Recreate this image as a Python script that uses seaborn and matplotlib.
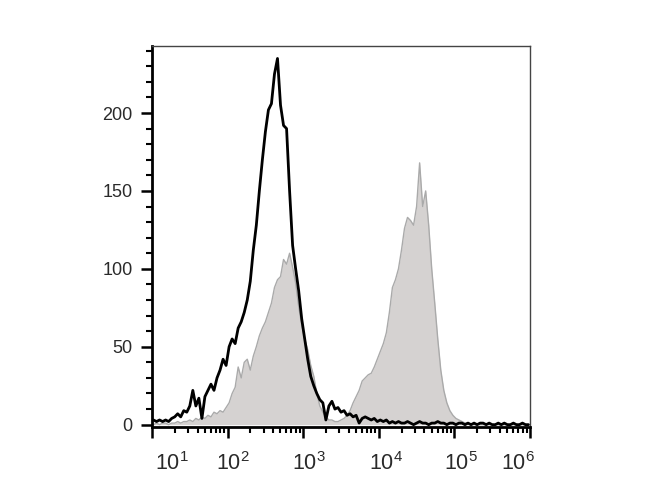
import numpy as np
import pandas as pd
import matplotlib
matplotlib.use("Agg")
import matplotlib.pyplot as plt
import matplotlib.ticker as mticker
from matplotlib.transforms import ScaledTranslation
import seaborn as sns

# ---- data (bins of 0.04 decades from 10^1 to 10^6) ----
log_start, log_step, n_bins = 1.0, 0.04, 125
bin_centers = 10 ** (log_start + log_step * (np.arange(n_bins) + 0.5))

control_counts = [
    3, 2, 3, 2, 3, 2, 4, 5, 7, 5,
    9, 8, 12, 22, 12, 17, 4, 18, 22, 26,
    22, 30, 35, 42, 38, 50, 55, 52, 62, 66,
    72, 80, 92, 112, 128, 150, 170, 188, 202, 206,
    225, 235, 205, 192, 190, 150, 115, 100, 86, 68,
    55, 42, 31, 25, 20, 16, 14, 3, 12, 15,
    10, 11, 8, 9, 6, 7, 5, 6, 1, 4,
    5, 4, 3, 4, 2, 3, 2, 3, 1, 2,
    1, 2, 1, 1, 2, 1, 0, 1, 2, 1,
    1, 0, 1, 1, 2, 1, 1, 0, 1, 1,
    0, 1, 1, 0, 1, 0, 1, 0, 1, 1,
    0, 1, 0, 0, 1, 0, 1, 0, 0, 1,
    0, 0, 1, 0, 0,
]

stained_counts = [
    0, 1, 0, 1, 1, 0, 1, 1, 2, 1,
    2, 2, 3, 2, 4, 3, 5, 4, 6, 5,
    8, 7, 9, 8, 11, 14, 20, 24, 37, 30,
    40, 42, 35, 44, 50, 57, 62, 66, 72, 78,
    88, 93, 95, 106, 103, 110, 101, 91, 76, 64,
    55, 48, 38, 31, 20, 12, 8, 5, 3, 3,
    2, 2, 3, 4, 6, 9, 14, 18, 22, 28,
    30, 32, 33, 37, 42, 47, 52, 59, 72, 88,
    93, 100, 112, 126, 133, 131, 128, 140, 168, 140,
    150, 128, 100, 78, 55, 35, 22, 14, 9, 6,
    4, 3, 2, 1, 1, 0, 0, 0, 0, 0,
    0, 0, 0, 0, 0, 0, 0, 0, 0, 0,
    0, 0, 0, 0, 0,
]

x_tick_values = [1e1, 1e2, 1e3, 1e4, 1e5, 1e6]
x_tick_labels = [r"$10^{1}$", r"$10^{2}$", r"$10^{3}$", r"$10^{4}$", r"$10^{5}$", r"$10^{6}$"]
y_tick_values = [0, 50, 100, 150, 200]

df = pd.DataFrame({"x": bin_centers, "control": control_counts, "stained": stained_counts})

# ---- figure ----
sns.set_style("ticks")
plt.rcParams["font.family"] = ["Liberation Sans", "DejaVu Sans"]
plt.rcParams["mathtext.fontset"] = "custom"
plt.rcParams["mathtext.rm"] = "Liberation Sans"
plt.rcParams["mathtext.it"] = "Liberation Sans"

fig = plt.figure(figsize=(6.7, 5.0), dpi=100)
ax = fig.add_axes([152 / 670, 1 - 427 / 500, (530 - 152) / 670, (427 - 46) / 500])

ax.fill_between(df["x"], df["stained"], 0, color="#d5d2d1", lw=0, zorder=1)
sns.lineplot(data=df, x="x", y="stained", color="#aaaaaa", lw=1.0, ax=ax, zorder=2)
sns.lineplot(data=df, x="x", y="control", color="black", lw=2.0, ax=ax, zorder=3)

ax.set_xscale("log")
ax.set_xlim(10, 1e6)
ax.set_ylim(-1.5, 243)
ax.set_xlabel("")
ax.set_ylabel("")

ax.set_xticks(x_tick_values)
ax.set_xticklabels(x_tick_labels)
ax.xaxis.set_minor_locator(mticker.LogLocator(base=10, subs=np.arange(2, 10), numticks=20))
ax.xaxis.set_minor_formatter(mticker.NullFormatter())
ax.set_yticks(y_tick_values)
ax.yaxis.set_minor_locator(mticker.MultipleLocator(10))

ax.tick_params(axis="both", which="major", direction="out", length=8, width=1.8,
               color="black", labelsize=13, labelcolor="#2a2a2a")
ax.tick_params(axis="both", which="minor", direction="out", length=4, width=1.5, color="black")
ax.tick_params(axis="x", which="major", pad=10, labelsize=15.5)
ax.tick_params(axis="y", which="major", pad=6)

for side in ["left", "bottom"]:
    ax.spines[side].set_linewidth(2.0)
    ax.spines[side].set_color("black")
for side in ["top", "right"]:
    ax.spines[side].set_visible(True)
    ax.spines[side].set_linewidth(1.0)
    ax.spines[side].set_color("#444444")

offsets_px = [20, 5, 6, 7, 7, -12]
for lab, dx in zip(ax.get_xticklabels(), offsets_px):
    lab.set_transform(lab.get_transform() + ScaledTranslation(dx / 100, 0, fig.dpi_scale_trans))

fig.savefig("out.png", dpi=100)
